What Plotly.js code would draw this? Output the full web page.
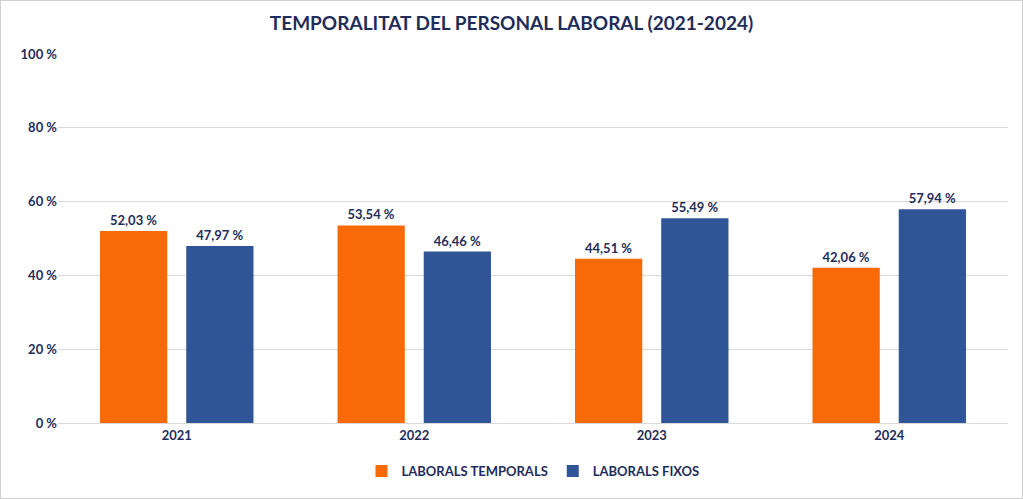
<!DOCTYPE html>
<html><head><meta charset="utf-8">
<script src="https://cdn.plot.ly/plotly-3.0.1.min.js"></script>
<style>html,body{margin:0;padding:0;background:#fff}#c{width:1023px;height:499px;box-sizing:border-box;border:1px solid #d0d0d0}</style>
</head><body><div id="c"></div>
<script>
const years = ['2021','2022','2023','2024'];
const temporals = [52.03, 53.54, 44.51, 42.06];
const fixos = [47.97, 46.46, 55.49, 57.94];
const fmt = v => v.toFixed(2).replace('.', ',') + ' %';
const navy = '#1F2D5A';
const font = {family: 'Lato, "Open Sans", sans-serif', color: navy};
const mk = (name, vals, color) => ({
  type: 'bar', name: name, x: years, y: vals, marker: {color: color},
  text: vals.map(fmt), textposition: 'outside', cliponaxis: false,
  textfont: {family: font.family, color: navy, size: 13, weight: 'bold'}
});
Plotly.newPlot('c', [
  mk('LABORALS TEMPORALS', temporals, '#F86908'),
  mk('LABORALS FIXOS', fixos, '#2F5597')
], {
  width: 1021, height: 497,
  margin: {l: 57, r: 14, t: 53, b: 69},
  title: {text: '<b>TEMPORALITAT DEL PERSONAL LABORAL (2021-2024)</b>', font: {family: font.family, color: navy, size: 19}, x: 0.5, y: 0.955, yanchor: 'middle'},
  barmode: 'group', bargap: 0.274, bargroupgap: 0.22,
  yaxis: {range: [0, 100], dtick: 20, ticksuffix: ' %', gridcolor: '#d9d9d9', zeroline: false,
    tickfont: {family: font.family, color: navy, size: 13, weight: 'bold'}, fixedrange: true},
  xaxis: {showline: true, linecolor: '#d9d9d9', tickfont: {family: font.family, color: navy, size: 13, weight: 'bold'}},
  legend: {orientation: 'h', x: 0.5, xanchor: 'center', y: -0.13, yanchor: 'middle',
    font: {family: font.family, color: navy, size: 13, weight: 'bold'}},
  paper_bgcolor: '#fff', plot_bgcolor: '#fff', showlegend: true
}, {displayModeBar: false});
</script></body></html>
